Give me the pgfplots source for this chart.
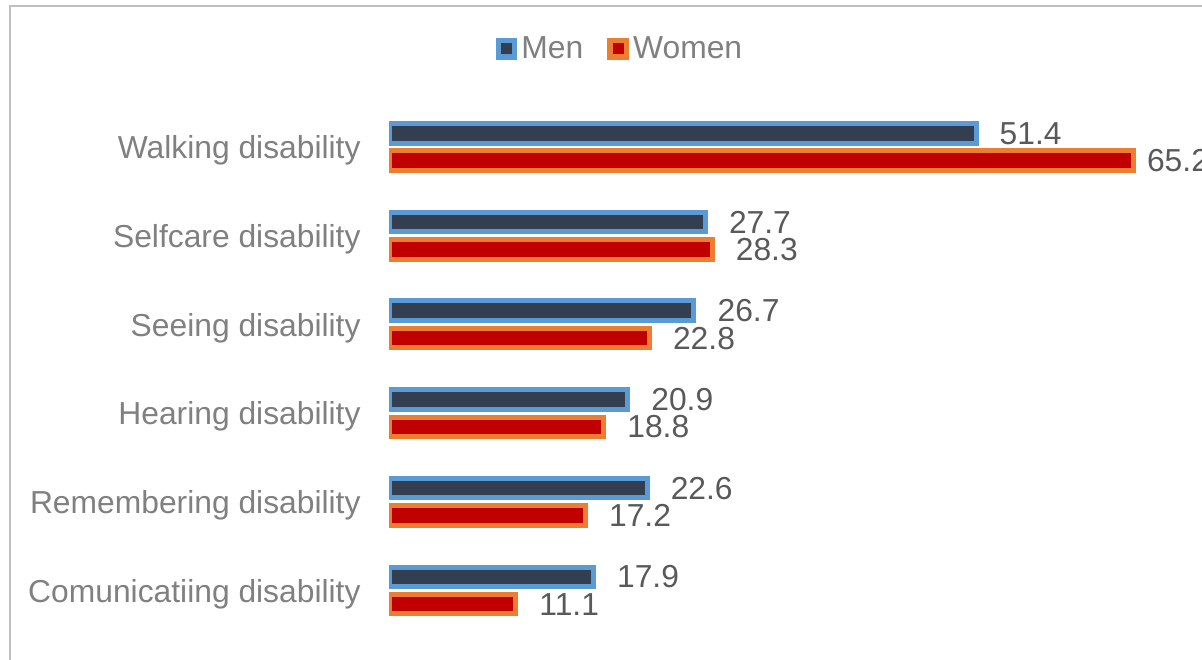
\documentclass[border=0pt]{standalone}
\usepackage{fontspec}
\setmainfont{Liberation Sans}
\usepackage{pgfplots}
\pgfplotsset{compat=1.18}

\definecolor{menedge}{HTML}{5B9BD5}
\definecolor{menfill}{HTML}{333F50}
\definecolor{womenedge}{HTML}{ED7D31}
\definecolor{womenfill}{HTML}{C00000}
\definecolor{labgray}{HTML}{808080}
\definecolor{valgray}{HTML}{595959}
\definecolor{framegray}{HTML}{BFBFBF}

\begin{document}
\begin{tikzpicture}
\path[use as bounding box, clip] (0,0) rectangle (601pt,329.5pt);
\draw[framegray, line width=0.9pt] (5pt,-20pt) -- (5pt,326.5pt) -- (700pt,326.5pt);
\begin{axis}[
    at={(194.5pt,12.07pt)}, anchor=south west,
    scale only axis,
    width=399.7pt, height=266.1pt,
    xmin=0, xmax=70,
    ymin=-0.5, ymax=5.5,
    xbar,
    bar width=9.75pt,
    axis line style={draw=none},
    major tick length=0pt,
    xtick=\empty,
    ytick={0,1,2,3,4,5},
    yticklabels={Comunicatiing disability,Remembering disability,Hearing disability,Seeing disability,Selfcare disability,Walking disability},
    yticklabel style={font=\fontsize{15.9}{19}\selectfont, text=labgray, xshift=-10.7pt, yshift=-1.8pt},
    nodes near coords,
    nodes near coords style={font=\fontsize{15.9}{19}\selectfont, text=valgray, anchor=west, xshift=7.25pt},
    /pgf/number format/.cd, fixed, fixed zerofill, precision=1, assume math mode=true,
    /pgfplots/.cd,
    legend columns=2,
    legend style={draw=none, fill=none, at={(0.29,1.101)}, anchor=center,
        font=\fontsize{15.9}{19}\selectfont, text=labgray,
        /tikz/every even column/.append style={column sep=10pt}},
    legend image code/.code={\draw[#1, line width=2.75pt] (0pt,-4.1pt) rectangle (8.2pt,4.1pt);},
]
\addplot[draw=menedge, fill=menfill, line width=2.5pt, bar shift=6.85pt] coordinates {
(17.9,0) (22.6,1) (20.9,2) (26.7,3) (27.7,4) (51.4,5)
};
\addplot[draw=womenedge, fill=womenfill, line width=2.5pt, bar shift=-6.85pt] coordinates {
(11.1,0) (17.2,1) (18.8,2) (22.8,3) (28.3,4)
};
\addplot[draw=womenedge, fill=womenfill, line width=2.5pt, bar shift=-6.85pt, forget plot,
    nodes near coords style={xshift=-5.1pt}] coordinates {
(65.2,5)
};
\legend{Men,Women}
\end{axis}
\end{tikzpicture}
\end{document}
